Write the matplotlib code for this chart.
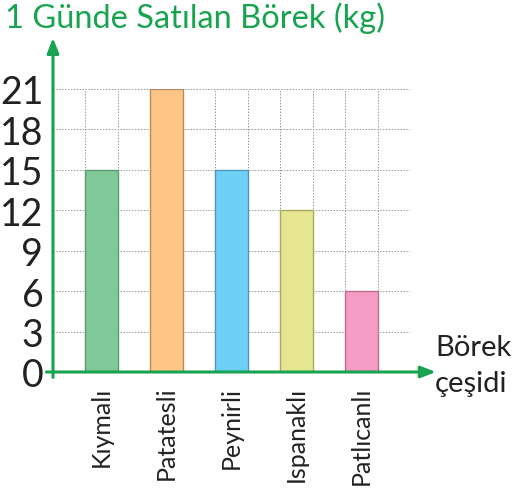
import matplotlib.pyplot as plt
import numpy as np

categories = ['Kıymalı', 'Patatesli', 'Peynirli', 'Ispanaklı', 'Patlıcanlı']
values = [15, 21, 15, 12, 6]
colors = ['#82c99a', '#fdc686', '#6fd0f5', '#e6e690', '#f59cc4']
edges = ['#5a9a6e', '#b88a5a', '#4a98b8', '#a8a860', '#b8708e']
yticks = [0, 3, 6, 9, 12, 15, 18, 21]

green = '#17a34f'
plt.rcParams['font.family'] = ['Lato', 'DejaVu Sans']

fig = plt.figure(figsize=(5.15, 4.89), dpi=100)
ax = fig.add_axes([53 / 515, 1 - 373 / 489, 357 / 515, 283 / 489])

xpos = np.arange(len(categories)) * 2 + 1.5
ax.bar(xpos, values, width=1, color=colors, edgecolor=edges, linewidth=1, zorder=3)

# dotted grid
for gx in range(1, 12):
    ax.plot([gx, gx], [0, 21], color='#999999', lw=0.7, ls=(0, (1.5, 1.5)), zorder=1)
for gy in yticks[1:]:
    ax.plot([0, 11], [gy, gy], color='#999999', lw=0.7, ls=(0, (1.5, 1.5)), zorder=1)

ax.set_xlim(0, 11)
ax.set_ylim(0, 21)
for s in ax.spines.values():
    s.set_visible(False)
ax.set_xticks(xpos)
ax.set_xticklabels(categories, rotation=90, fontsize=18, color='#222222')
ax.set_yticks(yticks)
ax.set_yticklabels([str(t) for t in yticks], fontsize=27, color='#222222')
ax.tick_params(length=0, pad=7)
ax.tick_params(axis='x', pad=10)

# axis arrows
ax.annotate('', xy=(0, 24.8), xytext=(0, -0.4), xycoords='data',
            arrowprops=dict(arrowstyle='-|>,head_length=0.9,head_width=0.35',
                            color=green, lw=2.2, shrinkA=0, shrinkB=0),
            annotation_clip=False, zorder=5)
ax.annotate('', xy=(11.8, 0), xytext=(-0.2, 0), xycoords='data',
            arrowprops=dict(arrowstyle='-|>,head_length=0.9,head_width=0.35',
                            color=green, lw=2.2, shrinkA=0, shrinkB=0),
            annotation_clip=False, zorder=5)

fig.text(5 / 515, 1 - 18 / 489, '1 Günde Satılan Börek (kg)', color=green,
         fontsize=23.5, ha='left', va='center')
fig.text(473 / 515, 1 - 348 / 489, 'Börek', color='#222222', fontsize=21,
         ha='center', va='center')
fig.text(471 / 515, 1 - 384 / 489, 'çeşidi', color='#222222', fontsize=21,
         ha='center', va='center')

fig.savefig('out.png', dpi=100)
